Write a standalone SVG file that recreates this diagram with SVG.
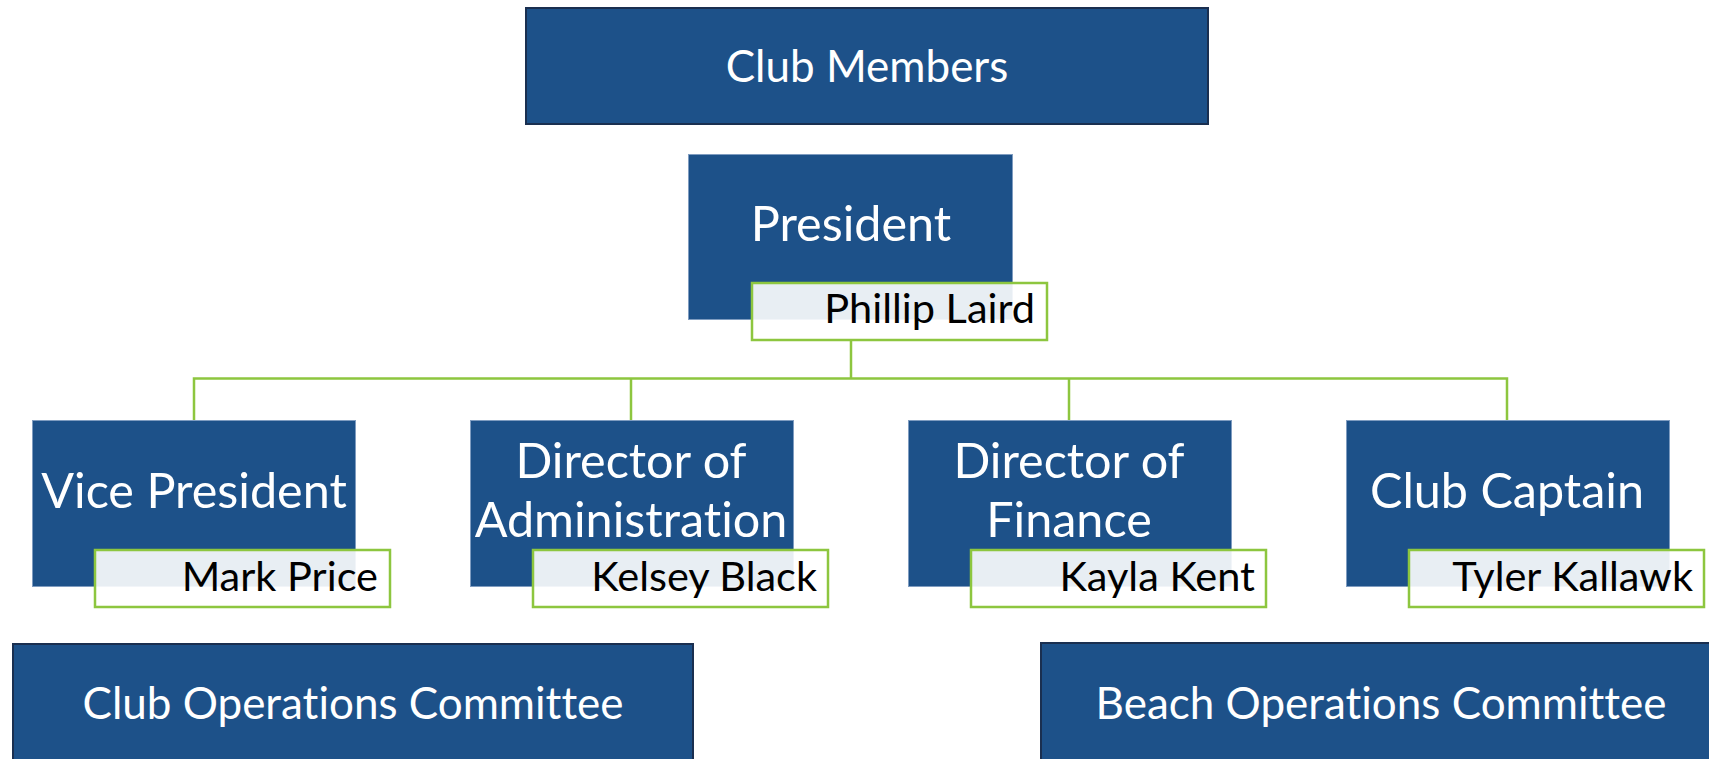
<svg xmlns="http://www.w3.org/2000/svg" width="1709" height="759" viewBox="0 0 1709 759">
  <style>
    .box { fill: #1D5189; stroke: #7F9CC0; stroke-width: 1; }
    .box-dark { fill: #1D5189; stroke: #1A2F50; stroke-width: 2; }
    text { font-family: Lato, "Liberation Sans", sans-serif; font-variant-ligatures: none; font-feature-settings: "liga" 0, "clig" 0; }
    .title { fill: #FFFFFF; text-anchor: middle; }
    .t48 { font-size: 48.5px; }
    .t43 { font-size: 44px; }
    .name-box { fill: #FFFFFF; fill-opacity: 0.9; stroke: #8DC63F; stroke-width: 2.5; }
    .name { font-size: 41.5px; fill: #000000; text-anchor: end; }
    .link { fill: none; stroke: #8DC63F; stroke-width: 2.5; }
  </style>

  <!-- connectors -->
  <g id="connectors">
    <path class="link" d="M851 340 V378.5"/>
    <path class="link" d="M194 420 V378.5 H1507 V420"/>
    <path class="link" d="M631 378.5 V420"/>
    <path class="link" d="M1069 378.5 V420"/>
  </g>

  <g id="club-members">
    <rect class="box-dark" x="526" y="8" width="682" height="116"/>
    <text class="title t43" x="867" y="82">Club Members</text>
  </g>

  <g id="president">
    <rect class="box" x="688.5" y="154.5" width="324" height="165"/>
    <text class="title t48" x="851" y="241">President</text>
    <rect class="name-box" x="752" y="283" width="295" height="57"/>
    <text class="name" x="1035" y="323">Phillip Laird</text>
  </g>

  <g id="vice-president">
    <rect class="box" x="32.5" y="420.5" width="323" height="166"/>
    <text class="title t48" x="194" y="508">Vice President</text>
    <rect class="name-box" x="95" y="550" width="295" height="57"/>
    <text class="name" x="378" y="591">Mark Price</text>
  </g>

  <g id="director-administration">
    <rect class="box" x="470.5" y="420.5" width="323" height="166"/>
    <text class="title t48" x="631" y="478">Director of</text>
    <text class="title t48" x="631" y="537">Administration</text>
    <rect class="name-box" x="533" y="550" width="295" height="57"/>
    <text class="name" x="817" y="591">Kelsey Black</text>
  </g>

  <g id="director-finance">
    <rect class="box" x="908.5" y="420.5" width="323" height="166"/>
    <text class="title t48" x="1069" y="478">Director of</text>
    <text class="title t48" x="1069" y="537">Finance</text>
    <rect class="name-box" x="971" y="550" width="295" height="57"/>
    <text class="name" x="1255" y="591">Kayla Kent</text>
  </g>

  <g id="club-captain">
    <rect class="box" x="1346.5" y="420.5" width="323" height="166"/>
    <text class="title t48" x="1507" y="508">Club Captain</text>
    <rect class="name-box" x="1409" y="550" width="295" height="57"/>
    <text class="name" x="1693" y="591">Tyler Kallawk</text>
  </g>

  <g id="club-operations-committee">
    <rect class="box-dark" x="13" y="644" width="680" height="130"/>
    <text class="title t43" x="353" y="719">Club Operations Committee</text>
  </g>

  <g id="beach-operations-committee">
    <rect class="box-dark" x="1041" y="643" width="690" height="130"/>
    <text class="title t43" x="1381" y="719">Beach Operations Committee</text>
  </g>
</svg>
